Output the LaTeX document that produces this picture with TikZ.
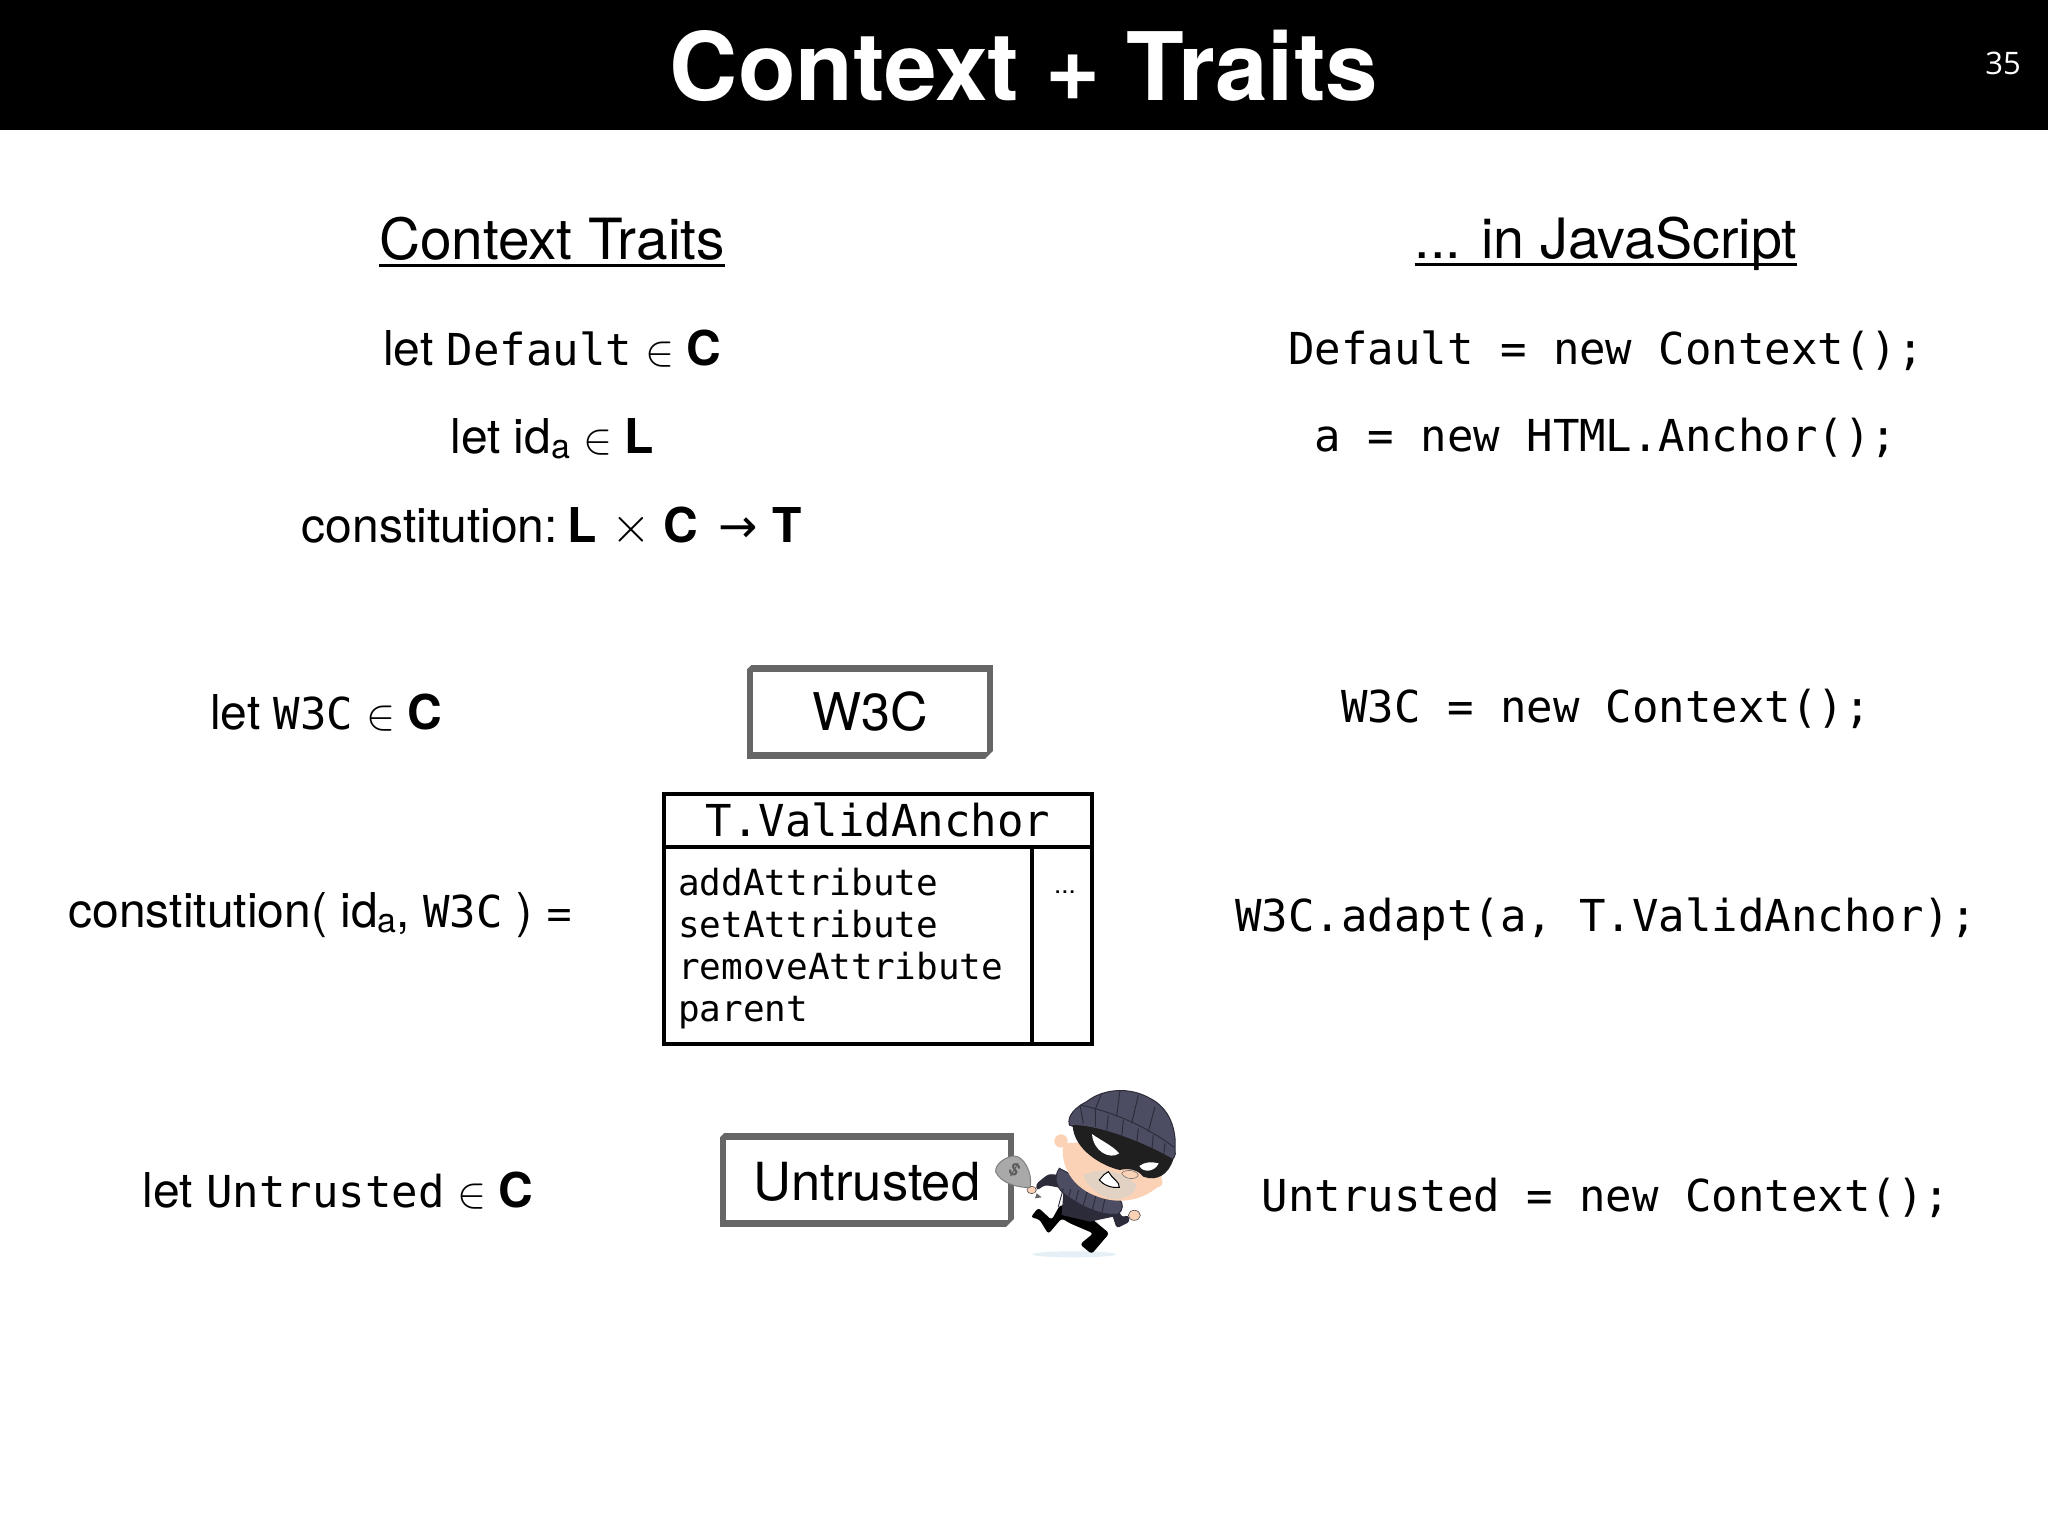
\documentclass[tikz,border=0pt]{standalone}
\usepackage{fontspec}
\setmainfont{TeX Gyre Heros}
\setmonofont{DejaVu Sans Mono}
\newfontfamily\arrowfont{DejaVu Sans}
\newfontfamily\pagefont{Open Sans}
\newcommand{\myul}[1]{\setbox0\hbox{#1}\rlap{\rule[-7.5pt]{\wd0}{2.4pt}}\box0}
\newcommand{\bigC}{\textbf{C}}
\newcommand{\subA}{\raisebox{-5pt}{\fontsize{34}{34}\selectfont a}}
\newcommand{\elemof}{\hspace{13pt}\scalebox{1.75}{$\in$}\hspace{12pt}}
\definecolor{boxgray}{HTML}{666666}
\definecolor{knit}{HTML}{4C4C62}
\definecolor{knitdark}{HTML}{2B2B3A}
\definecolor{skin}{HTML}{FBD2B6}
\definecolor{stubble}{HTML}{E2D2C4}
\definecolor{bag}{HTML}{A9A9A9}
\definecolor{shadowblue}{HTML}{E4EFF6}
\tikzset{
  sanstext/.style={inner sep=0pt,anchor=base,font=\fontsize{48}{50}\selectfont},
  codetext/.style={inner sep=0pt,anchor=base,font=\ttfamily\fontsize{44}{50}\selectfont},
  listtext/.style={inner sep=0pt,anchor=base west,font=\ttfamily\fontsize{36}{40}\selectfont},
  ctxbox/.style={draw=boxgray,line width=6.5pt,fill=white,inner sep=0pt,font=\fontsize{52}{60}\selectfont},
  tablebox/.style={draw=black,line width=3.6pt,inner sep=0pt},
  tableline/.style={draw=black,line width=3.6pt},
  cut/.style={fill=white,draw=none},
  knitline/.style={draw=knitdark,line width=0.9pt},
}
\newcommand{\codefont}{\ttfamily\fontsize{44}{50}\selectfont}
\begin{document}
\begin{tikzpicture}[x=1pt,y=-1pt]
\useasboundingbox (0,0) rectangle (2048,1536);
\fill[white] (0,0) rectangle (2048,1536);
\node[fill=black,minimum width=2048pt,minimum height=130pt,inner sep=0pt,anchor=north west] (bar) at (0,0) {};
\node[inner sep=0pt,anchor=base,text=white,font=\bfseries\fontsize{94.5}{100}\selectfont] (title) at (1024,101) {Context + Traits};
\node[inner sep=0pt,anchor=base,text=white,font=\pagefont\fontsize{31}{31}\selectfont] (page) at (2003,75) {35};

\node[inner sep=0pt,anchor=base,font=\fontsize{56.8}{60}\selectfont] (hl) at (552,259) {\myul{Context Traits}};
\node[inner sep=0pt,anchor=base,font=\fontsize{55.6}{60}\selectfont] (hr) at (1606,258) {\myul{... in JavaScript}};

\node[sanstext] (l1) at (552,365) {let {\codefont Default}\elemof \bigC};
\node[sanstext] (l2) at (552,453) {let id\subA\elemof \textbf{L}};
\node[sanstext] (l3) at (552,542) {constitution:\hspace{10pt}\textbf{L}\hspace{14pt}\scalebox{2.05}{$\times$}\hspace{13pt}\bigC\hspace{20pt}{\arrowfont\fontsize{47}{47}\selectfont →}\hspace{15pt}\textbf{T}};
\node[codetext] (r1) at (1606,364) {Default = new Context();};
\node[codetext] (r2) at (1606,451) {a = new HTML.Anchor();};

\node[sanstext] (l4) at (326,729) {let {\codefont W3C}\elemof \bigC};
\node[ctxbox,minimum width=240pt,minimum height=87pt] (w3c) at (870,712) {W3C};
\fill[cut] (746,661) -- (755,661) -- (746,670) -- cycle;
\fill[cut] (994,759) -- (985,759) -- (994,750) -- cycle;
\node[codetext] (r3) at (1606,722) {W3C = new Context();};

\node[sanstext] (l5) at (321,927) {constitution( id\subA, {\codefont W3C} ) =};
\node[tablebox,minimum width=428pt,minimum height=250pt] (table) at (878,919) {};
\coordinate (hdivl) at (664,847);
\coordinate (hdivr) at (1092,847);
\coordinate (vtop) at (1032,847);
\coordinate (vbot) at (1032,1044);
\draw[tableline] (hdivl) -- (hdivr);
\draw[tableline] (vtop) -- (vbot);
\node[codetext] (tname) at (878,836) {T.ValidAnchor};
\node[listtext] (m1) at (678,895) {addAttribute};
\node[listtext] (m2) at (678,937) {setAttribute};
\node[listtext] (m3) at (678,979) {removeAttribute};
\node[listtext] (m4) at (678,1021) {parent};
\node[inner sep=0pt,anchor=base,font=\fontsize{26}{30}\selectfont] (dots) at (1065,893) {...};
\node[codetext] (r4) at (1606,931) {W3C.adapt(a, T.ValidAnchor);};

\node[sanstext] (l6) at (338,1207) {let {\codefont Untrusted}\elemof \bigC};
\node[ctxbox,minimum width=288pt,minimum height=87pt] (untr) at (867,1180) {};
\fill[cut] (719,1129) -- (728,1129) -- (719,1138) -- cycle;
\fill[cut] (1015,1227) -- (1006,1227) -- (1015,1218) -- cycle;
\node[inner sep=0pt,anchor=base,font=\fontsize{52.5}{60}\selectfont] (untrt) at (867,1200) {Untrusted};
\node[codetext] (r5) at (1606,1211) {Untrusted = new Context();};

% the burglar (coordinates are thirds of a pixel)
\begin{scope}[shift={(980,1060)},x=0.3333pt,y=-0.3333pt]
  \fill[shadowblue] (282,583) ellipse [x radius=125,y radius=9];
  % legs
  \fill[black,rounded corners=3pt] (240,435) -- (215,480) -- (175,443) -- (152,472) -- (178,478) -- (205,522) -- (245,475) -- (270,490) -- (340,520) -- (300,553) -- (335,582) -- (388,520) -- (340,480) -- (300,440) -- cycle;
  % far arm and bag
  \fill[knitdark,rounded corners=3pt] (245,345) -- (205,342) -- (168,372) -- (170,392) -- (195,375) -- (250,385) -- cycle;
  \fill[skin,draw=black!70,line width=0.6pt] (155,390) ellipse [x radius=14,y radius=11];
  \fill[black!60] (170,400) -- (185,412) -- (165,415) -- cycle;
  \fill[bag,draw=white!50!black,line width=1pt] (150,382) .. controls (120,385) and (60,370) .. (47,335) .. controls (45,310) and (80,290) .. (100,288) .. controls (130,285) and (160,340) .. (150,382) -- cycle;
  \node[rotate=-30,inner sep=0pt,text=black!65,font=\bfseries\fontsize{17}{17}\selectfont] (dollar) at (103,330) {\$};
  % near arm
  \fill[knitdark,rounded corners=3pt] (390,445) -- (410,505) -- (450,485) -- (445,465) -- (425,472) -- (415,445) -- cycle;
  \fill[skin,draw=black!70,line width=0.6pt] (463,466) ellipse [x radius=18,y radius=15];
  % body and collar
  \fill[knitdark] (250,400) -- (245,465) -- (330,485) -- (400,470) -- (420,440) -- cycle;
  \fill[knit,draw=knitdark,line width=1pt] (238,325) .. controls (222,350) and (225,375) .. (250,400) .. controls (300,440) and (370,470) .. (415,462) .. controls (430,450) and (430,430) .. (420,420) -- cycle;
  \foreach \a/\b in {250/235,272/258,296/280,322/305,350/335,378/365}{\draw[knitline] (\a,355+\a*0.12) -- (\b,395+\a*0.18);}
  % head
  \fill[skin] (243,243) circle [radius=20];
  \fill[skin] (533,367) circle [radius=15];
  \fill[skin] (250,250) .. controls (240,310) and (270,370) .. (330,400) .. controls (400,435) and (480,430) .. (540,375) .. controls (560,340) and (520,270) .. (440,240) -- cycle;
  \fill[stubble] (310,345) .. controls (360,320) and (420,330) .. (470,375) .. controls (470,405) and (420,425) .. (385,415) .. controls (350,400) and (320,380) .. (310,345) -- cycle;
  % hat
  \fill[knit,draw=knitdark,line width=1pt] (268,195) .. controls (260,165) and (290,140) .. (320,125) .. controls (370,85) and (450,80) .. (510,115) .. controls (570,145) and (590,210) .. (585,270) .. controls (590,285) and (580,305) .. (560,305) -- cycle;
  \foreach \p/\q/\r/\s in {300/135/310/190,345/150/345/200,385/165/380/215,430/180/425/230,475/205/470/250,520/225/515/275,555/250/550/295}{\draw[knitline] (\p,\q) -- (\r,\s);}
  \draw[knitline] (300,135) .. controls (400,155) and (510,205) .. (582,262);
  \foreach \p/\q/\r/\s in {365/100/345/150,420/90/410/170,475/105/455/190,525/140/505/215}{\draw[knitline] (\p,\q) -- (\r,\s);}
  % mask
  \fill[black!88] (278,195) .. controls (350,195) and (480,240) .. (580,298) .. controls (565,345) and (530,365) .. (490,350) .. controls (470,325) and (440,325) .. (420,330) .. controls (370,320) and (280,270) .. (278,195) -- cycle;
  \fill[white] (336,222) .. controls (360,240) and (395,255) .. (418,280) .. controls (390,300) and (340,275) .. (336,222) -- cycle;
  \fill[white] (536,310) .. controls (515,305) and (495,305) .. (478,318) .. controls (490,340) and (525,335) .. (536,310) -- cycle;
  % nose and mouth
  \fill[skin,draw=black!55,line width=0.6pt] (425,340) .. controls (430,330) and (465,325) .. (475,345) .. controls (470,360) and (435,360) .. (425,340) -- cycle;
  \fill[white,draw=black,line width=1pt] (358,360) .. controls (370,345) and (375,340) .. (385,335) .. controls (395,355) and (420,365) .. (418,382) .. controls (395,385) and (370,375) .. (358,360) -- cycle;
\end{scope}
\end{tikzpicture}
\end{document}
